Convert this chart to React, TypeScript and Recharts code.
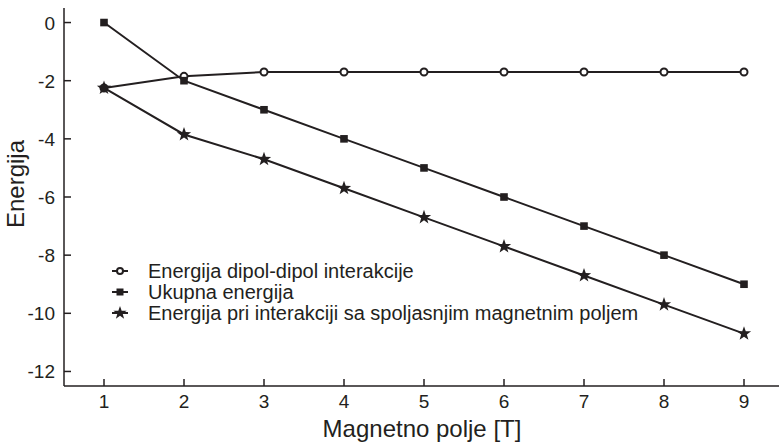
import React from 'react';
import { LineChart, Line, XAxis, YAxis, Label } from 'recharts';

const fieldValues = [1, 2, 3, 4, 5, 6, 7, 8, 9];
const dipolDipol = [-2.25, -1.85, -1.7, -1.7, -1.7, -1.7, -1.7, -1.7, -1.7];
const ukupna = [0, -2, -3, -4, -5, -6, -7, -8, -9];
const spoljasnje = [-2.25, -3.85, -4.7, -5.7, -6.7, -7.7, -8.7, -9.7, -10.7];
const xTicks = [1, 2, 3, 4, 5, 6, 7, 8, 9];
const yTicks = [-12, -10, -8, -6, -4, -2, 0];
const seriesNames = [
  'Energija dipol-dipol interakcije',
  'Ukupna energija',
  'Energija pri interakciji sa spoljasnjim magnetnim poljem',
];

const data = fieldValues.map((x, i) => ({
  x,
  dipol: dipolDipol[i],
  ukupna: ukupna[i],
  spolj: spoljasnje[i],
}));

const INK = '#231f20';
const FONT = '"Liberation Sans", Arial, Helvetica, sans-serif';

const starPath = (cx: number, cy: number, R: number, r: number) => {
  const pts: string[] = [];
  for (let k = 0; k < 10; k++) {
    const ang = -Math.PI / 2 + (k * Math.PI) / 5;
    const rad = k % 2 === 0 ? R : r;
    pts.push(`${(cx + rad * Math.cos(ang)).toFixed(2)},${(cy + rad * Math.sin(ang)).toFixed(2)}`);
  }
  return `M${pts.join('L')}Z`;
};

const CircleMark = ({ cx, cy }: any) => (
  <circle cx={cx} cy={cy} r={3.5} fill="#fff" stroke={INK} strokeWidth={2} />
);
const SquareMark = ({ cx, cy }: any) => (
  <rect x={cx - 3.8} y={cy - 3.8} width={7.6} height={7.6} fill={INK} />
);
const StarMark = ({ cx, cy }: any) => <path d={starPath(cx, cy, 7.5, 3)} fill={INK} />;

const BottomTick = ({ x, y, payload }: any) => (
  <g>
    <line x1={x} y1={y} x2={x} y2={y - 7} stroke={INK} strokeWidth={1.5} />
    <text x={x} y={y + 22} textAnchor="middle" fill={INK} fontSize={19} fontFamily={FONT}>
      {payload.value}
    </text>
  </g>
);
const TopTick = ({ x, y }: any) => (
  <line x1={x} y1={y} x2={x} y2={y + 7} stroke={INK} strokeWidth={1.5} />
);
const LeftTick = ({ x, y, payload }: any) => (
  <g>
    <line x1={x} y1={y} x2={x + 7} y2={y} stroke={INK} strokeWidth={1.5} />
    <text x={x - 9} y={y + 7} textAnchor="end" fill={INK} fontSize={19} fontFamily={FONT}>
      {payload.value}
    </text>
  </g>
);

const LegendBlock = () => {
  const marks = [
    (cx: number, cy: number) => <circle cx={cx} cy={cy} r={3} fill="#fff" stroke={INK} strokeWidth={2} />,
    (cx: number, cy: number) => <rect x={cx - 3.5} y={cy - 3.5} width={7} height={7} fill={INK} />,
    (cx: number, cy: number) => <path d={starPath(cx, cy, 7, 2.8)} fill={INK} />,
  ];
  const baselines = [278, 299, 320];
  return (
    <g>
      {seriesNames.map((name, i) => {
        const cy = baselines[i] - 7;
        return (
          <g key={name}>
            <line x1={112} y1={cy} x2={128} y2={cy} stroke={INK} strokeWidth={2} />
            {marks[i](120, cy)}
            <text x={148} y={baselines[i]} fill={INK} fontSize={20} fontFamily={FONT}>
              {name}
            </text>
          </g>
        );
      })}
    </g>
  );
};

export default function App() {
  return (
    <div style={{ position: 'absolute', left: 0, top: 0, width: 779, height: 446, overflow: 'hidden', background: '#fff' }}>
      <LineChart width={784} height={446} data={data} margin={{ top: 8, right: 0, bottom: 0, left: 0 }}>
        <XAxis
          dataKey="x"
          type="number"
          domain={[0.5, 9.5]}
          ticks={xTicks}
          allowDataOverflow
          height={60}
          tickSize={0}
          tickMargin={0}
          tickLine={false}
          axisLine={{ stroke: INK, strokeWidth: 1.5 }}
          tick={<BottomTick />}
        >
          <Label
            content={() => (
              <text x={422} y={437} textAnchor="middle" fill={INK} fontSize={24} fontFamily={FONT}>
                Magnetno polje [T]
              </text>
            )}
          />
        </XAxis>
        <XAxis
          xAxisId="top"
          orientation="top"
          dataKey="x"
          type="number"
          domain={[0.5, 9.5]}
          ticks={xTicks}
          allowDataOverflow
          height={0}
          tickSize={0}
          tickMargin={0}
          tickLine={false}
          axisLine={{ stroke: INK, strokeWidth: 1.5 }}
          tick={<TopTick />}
        />
        <YAxis
          type="number"
          domain={[-12.5, 0.5]}
          ticks={yTicks}
          allowDataOverflow
          width={64}
          tickSize={0}
          tickMargin={0}
          tickLine={false}
          axisLine={{ stroke: INK, strokeWidth: 1.5 }}
          tick={<LeftTick />}
        >
          <Label
            content={() => (
              <text
                x={24}
                y={184}
                transform="rotate(-90, 24, 184)"
                textAnchor="middle"
                fill={INK}
                fontSize={24}
                fontFamily={FONT}
              >
                Energija
              </text>
            )}
          />
        </YAxis>
        <Line dataKey="dipol" stroke={INK} strokeWidth={2} dot={<CircleMark />} activeDot={false} isAnimationActive={false} />
        <Line dataKey="ukupna" stroke={INK} strokeWidth={2} dot={<SquareMark />} activeDot={false} isAnimationActive={false} />
        <Line dataKey="spolj" stroke={INK} strokeWidth={2} dot={<StarMark />} activeDot={false} isAnimationActive={false} />
        <LegendBlock />
      </LineChart>
    </div>
  );
}
